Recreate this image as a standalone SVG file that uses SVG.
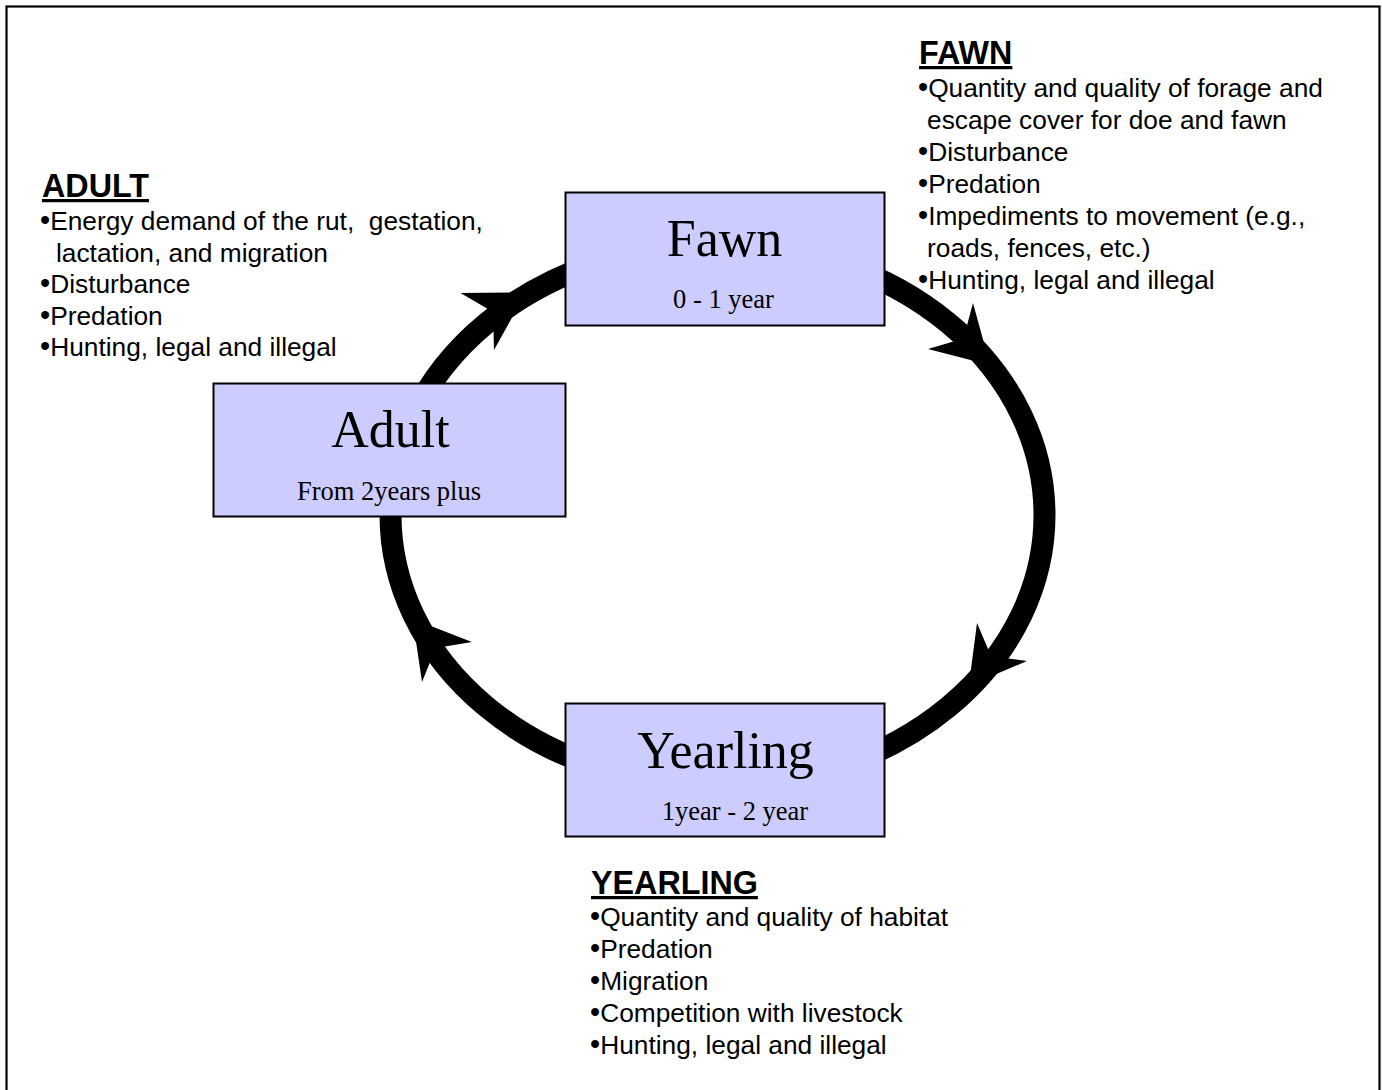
<svg xmlns="http://www.w3.org/2000/svg" width="1382" height="1090" viewBox="0 0 1382 1090">
<style>
.box{fill:#ccccff;stroke:#000;stroke-width:2}
.title{font-family:"Liberation Serif","Times New Roman",serif;font-size:52px;fill:#000;text-anchor:middle}
.sub{font-family:"Liberation Serif","Times New Roman",serif;font-size:26.5px;fill:#000;text-anchor:middle}
.head{font-family:"Liberation Sans",Arial,sans-serif;font-size:32.3px;font-weight:bold;fill:#000;text-decoration:underline}
.item{font-family:"Liberation Sans",Arial,sans-serif;font-size:26.3px;fill:#000}
.b{font-size:29px}
.arrowhead{fill:#000}
</style>
<rect x="0" y="0" width="1382" height="1090" fill="#fff"/>
<rect x="6.5" y="6.5" width="1373" height="1100" fill="none" stroke="#000" stroke-width="2.2"/>
<g id="connectors">
<ellipse cx="717.5" cy="515" rx="327" ry="271" fill="none" stroke="#000" stroke-width="22"/>
<polygon class="arrowhead" points="990,365 973,303 963.5,338.6 928,349"/>
<polygon class="arrowhead" points="968.8,685.8 1027,661 991.1,656.3 977,623"/>
<polygon class="arrowhead" points="412.7,619 422,682 435.8,648 472,642"/>
<polygon class="arrowhead" points="526,292.5 494,350 493,312 460.5,293"/>
</g>
<g id="fawn">
<rect class="box" x="565.5" y="192.5" width="319" height="133"/>
<text class="title" x="724.5" y="256">Fawn</text>
<text class="sub" x="723.5" y="308">0 - 1 year</text>
</g>
<g id="adult">
<rect class="box" x="213.5" y="383.5" width="352" height="133"/>
<text class="title" x="390.5" y="447">Adult</text>
<text class="sub" x="389" y="500">From 2years plus</text>
</g>
<g id="yearling">
<rect class="box" x="565.5" y="703.5" width="319" height="133"/>
<text class="title" x="725.5" y="768">Yearling</text>
<text class="sub" x="735" y="820">1year - 2 year</text>
</g>
<g id="fawn-notes">
<text class="head" x="919" y="64">FAWN</text>
<text class="item" x="918" y="97"><tspan class="b">•</tspan>Quantity and quality of forage and</text>
<text class="item" x="927" y="129">escape cover for doe and fawn</text>
<text class="item" x="918" y="161"><tspan class="b">•</tspan>Disturbance</text>
<text class="item" x="918" y="193"><tspan class="b">•</tspan>Predation</text>
<text class="item" x="918" y="225"><tspan class="b">•</tspan>Impediments to movement (e.g.,</text>
<text class="item" x="927" y="257">roads, fences, etc.)</text>
<text class="item" x="918" y="289"><tspan class="b">•</tspan>Hunting, legal and illegal</text>
</g>
<g id="adult-notes">
<text class="head" x="42" y="197">ADULT</text>
<text class="item" x="40" y="230" xml:space="preserve"><tspan class="b">•</tspan>Energy demand of the rut,  gestation,</text>
<text class="item" x="56" y="261.5">lactation, and migration</text>
<text class="item" x="40" y="293"><tspan class="b">•</tspan>Disturbance</text>
<text class="item" x="40" y="324.5"><tspan class="b">•</tspan>Predation</text>
<text class="item" x="40" y="356"><tspan class="b">•</tspan>Hunting, legal and illegal</text>
</g>
<g id="yearling-notes">
<text class="head" x="591" y="894">YEARLING</text>
<text class="item" x="590" y="926"><tspan class="b">•</tspan>Quantity and quality of habitat</text>
<text class="item" x="590" y="958"><tspan class="b">•</tspan>Predation</text>
<text class="item" x="590" y="990"><tspan class="b">•</tspan>Migration</text>
<text class="item" x="590" y="1022"><tspan class="b">•</tspan>Competition with livestock</text>
<text class="item" x="590" y="1054"><tspan class="b">•</tspan>Hunting, legal and illegal</text>
</g>
</svg>
